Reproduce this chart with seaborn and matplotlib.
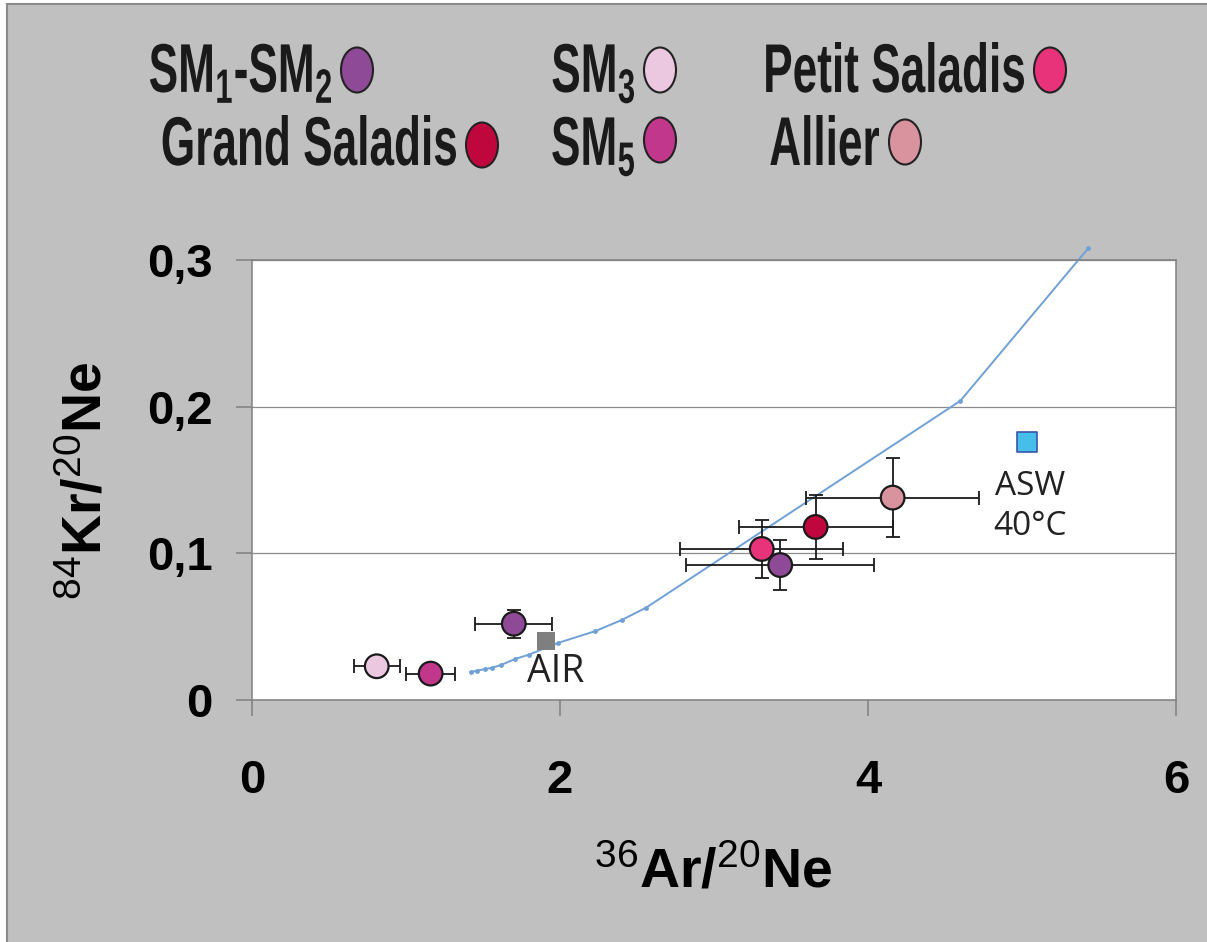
import numpy as np
import pandas as pd
import seaborn as sns
import matplotlib.pyplot as plt
from matplotlib.patches import Ellipse, Rectangle, PathPatch
from matplotlib.textpath import TextPath
from matplotlib.font_manager import FontProperties
from matplotlib.transforms import Affine2D

# sample data (36Ar/20Ne vs 84Kr/20Ne)
sample = ['SM3', 'SM5', 'SM1-SM2', 'Petit Saladis', 'SM1-SM2', 'Grand Saladis', 'Allier']
ar_ne = [0.81, 1.16, 1.70, 3.31, 3.43, 3.66, 4.16]
kr_ne = [0.023, 0.018, 0.052, 0.103, 0.092, 0.118, 0.138]
ar_err = [0.15, 0.16, 0.25, 0.53, 0.61, 0.50, 0.56]
kr_err = [0.0, 0.0, 0.0095, 0.020, 0.017, 0.022, 0.027]

# mixing / fractionation line
mix_ar = [1.42, 1.46, 1.51, 1.56, 1.62, 1.71, 1.80, 1.99, 2.23, 2.40, 2.56, 4.60, 5.43]
mix_kr = [0.019, 0.020, 0.021, 0.022, 0.024, 0.028, 0.031, 0.039, 0.047, 0.0545, 0.063, 0.204, 0.308]

# reference points
ref_name = ['AIR', 'ASW']
ref_ar = [1.91, 5.03]
ref_kr = [0.040, 0.176]

colors = {'SM1-SM2': '#8e4a96', 'SM3': '#ebc8e0', 'Petit Saladis': '#e8327a',
          'Grand Saladis': '#c0073d', 'SM5': '#c0378c', 'Allier': '#d9939f'}

legend_keys = ['SM1-SM2', 'SM3', 'Petit Saladis', 'Grand Saladis', 'SM5', 'Allier']
legend_text = [r'SM$_\mathbf{1}$-SM$_\mathbf{2}$', r'SM$_\mathbf{3}$', 'Petit Saladis',
               'Grand Saladis', r'SM$_\mathbf{5}$', 'Allier']

df = pd.DataFrame({'sample': sample, 'ar': ar_ne, 'kr': kr_ne})
mix_df = pd.DataFrame({'ar': mix_ar, 'kr': mix_kr})

sns.set_theme(style='white')
plt.rcParams['font.family'] = ['Liberation Sans', 'DejaVu Sans']
plt.rcParams['mathtext.fontset'] = 'custom'
plt.rcParams['mathtext.rm'] = 'Liberation Sans'
plt.rcParams['mathtext.it'] = 'Liberation Sans'
plt.rcParams['mathtext.bf'] = 'Liberation Sans:bold'

fig = plt.figure(figsize=(12.07, 9.42), dpi=100)
fig.patch.set_facecolor('white')
fig.patches.append(Rectangle((7 / 1207, -0.01), 1.1, (942 - 4) / 942 + 0.01,
                             transform=fig.transFigure, facecolor='#c0c0c0',
                             edgecolor='#8a8a8a', lw=1.5, zorder=-10))

ax = fig.add_axes([252 / 1207, 242 / 942, 924 / 1207, 440 / 942])
ax.set_facecolor('white')

# line
sns.lineplot(data=mix_df, x='ar', y='kr', ax=ax, sort=False, estimator=None,
             color='#6fa0d6', lw=1.4, marker='o', markersize=3.5,
             markeredgewidth=0, clip_on=False, zorder=2.5)

# reference squares
ax.scatter(ref_ar[0], ref_kr[0], marker='s', s=150, color='#7f7f7f', lw=0, zorder=3)
ax.scatter(ref_ar[1], ref_kr[1], marker='s', s=190, color='#45bfea',
           edgecolor='#3a55a8', lw=1.2, zorder=3)
ax.text(1.97, 0.019, 'AIR', ha='center', va='center', fontsize=27,
        family='Open Sans', color='#222222')
ax.text(5.05, 0.132, 'ASW\n40°C', ha='center', va='center', fontsize=24,
        family='Open Sans', color='#222222', linespacing=1.25)

# error bars + samples
ax.errorbar(ar_ne, kr_ne, xerr=ar_err, yerr=kr_err, fmt='none', ecolor='#1a1a1a',
            elinewidth=1.3, capsize=5, capthick=1.3, zorder=3)
sns.scatterplot(data=df, x='ar', y='kr', hue='sample', palette=colors, ax=ax,
                s=290, edgecolor='#1a1a1a', linewidth=1.6, legend=False, zorder=4)

ax.set_xlim(0, 6)
ax.set_ylim(0, 0.3)
ax.set_xticks([0, 2, 4, 6])
ax.set_xticklabels(['0', '2', '4', '6'])
ax.set_yticks([0, 0.1, 0.2, 0.3])
ax.set_yticklabels(['0', '0,1', '0,2', '0,3'])
ax.tick_params(axis='both', direction='out', length=11.5, width=1.1, color='#808080',
               labelsize=34, labelcolor='black')
ax.tick_params(axis='x', pad=31, bottom=True)
ax.tick_params(axis='y', pad=17, left=True)
for lab in ax.get_xticklabels() + ax.get_yticklabels():
    lab.set_fontweight('bold')
ax.grid(axis='y', color='#8c8c8c', lw=0.9)
ax.grid(axis='x', visible=False)
for sp in ax.spines.values():
    sp.set_color('#808080')
    sp.set_linewidth(1.1)

ax.set_xlabel('$^{36}$Ar/$^{20}$Ne', fontsize=40, fontweight='bold', color='black')
ax.set_ylabel('$^{84}$Kr/$^{20}$Ne', fontsize=40, fontweight='bold', color='black')
ax.xaxis.set_label_coords(0.499, -0.334)
ax.yaxis.set_label_coords(-0.15, 0.498)
ax.xaxis.label.set_va('top')

# legend drawn in pixel coordinates on an overlay (condensed bold text)
lax = fig.add_axes([0, 0, 1, 1])
lax.set_xlim(0, 1207)
lax.set_ylim(942, 0)
lax.axis('off')
leg_fp = FontProperties(family='Liberation Sans', weight='bold')
leg_x = [357, 660, 1050, 482, 660, 905]
leg_y = [70, 70, 70, 145, 140, 142]
leg_base = [92, 92, 92, 165, 165, 165]
squeeze = 0.64
for key, txt, mx, my, by in zip(legend_keys, legend_text, leg_x, leg_y, leg_base):
    lax.add_patch(Ellipse((mx, my), 32, 45, facecolor=colors[key], edgecolor='#222222', lw=1.5))
    tp = TextPath((0, 0), txt, size=69, prop=leg_fp)
    w = tp.get_extents().x1
    right = mx - 26
    tr = Affine2D().scale(squeeze, -1).translate(right - w * squeeze, by)
    lax.add_patch(PathPatch(tr.transform_path(tp), facecolor='#1a1a1a', lw=0))

fig.savefig('out.png', dpi=100, facecolor=fig.get_facecolor())
